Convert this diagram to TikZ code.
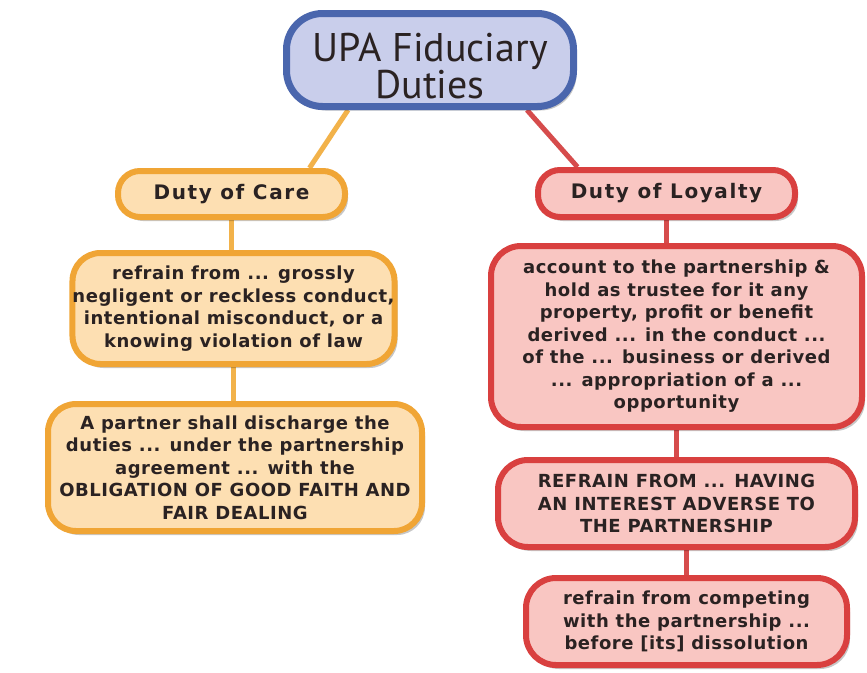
\documentclass[tikz,border=0pt]{standalone}
\usepackage{fontspec}
\setmainfont{PT Sans}
\newfontfamily\boxfont[LetterSpace=3]{DejaVu Sans}
\newfontfamily\headboxfont[LetterSpace=8]{DejaVu Sans}
\usetikzlibrary{shadows,backgrounds}
\definecolor{topline}{HTML}{4A66AD}
\definecolor{topfill}{HTML}{C9CEEB}
\definecolor{careline}{HTML}{F0A535}
\definecolor{carefill}{HTML}{FDDFB2}
\definecolor{careconn}{HTML}{F2B24A}
\definecolor{loyline}{HTML}{D9403F}
\definecolor{loyfill}{HTML}{F9C6C2}
\definecolor{loyconn}{HTML}{D64C4C}
\definecolor{ink}{HTML}{2A2222}
\tikzset{
  box/.style={rectangle, line width=6pt, align=center, inner sep=0pt, text=ink,
    font=\boxfont\bfseries\fontsize{18}{22.5}\selectfont,
    drop shadow={shadow xshift=3pt, shadow yshift=-4pt, opacity=0.22, fill=black}},
  topbox/.style={box, draw=topline, fill=topfill, line width=7pt, rounded corners=36pt,
    font=\fontsize{40}{35}\selectfont},
  carebox/.style={box, draw=careline, fill=carefill},
  loybox/.style={box, draw=loyline, fill=loyfill},
  headfont/.style={font=\headboxfont\bfseries\fontsize{20}{22}\selectfont},
  careconnector/.style={draw=careconn, line width=5pt},
  loyconnector/.style={draw=loyconn, line width=5pt},
}
\begin{document}
\begin{tikzpicture}[x=1pt,y=-1pt]
\useasboundingbox (0,0) rectangle (867,672);
\node[topbox, minimum width=287pt, minimum height=93pt] (top) at (430,60) {\rule{0pt}{40pt}UPA Fiduciary\\Duties};
\node[carebox, headfont, rounded corners=22pt, minimum width=227pt, minimum height=46pt] (care) at (231.5,194) {Duty of Care};
\node[loybox, headfont, rounded corners=22pt, minimum width=257pt, minimum height=47pt] (loyal) at (666.5,193.5) {Duty of Loyalty};
\node[carebox, rounded corners=28pt, minimum width=311pt, minimum height=111pt] (c1) at (233.5,308.5)
  {refrain from ... grossly\\negligent or reckless conduct,\\intentional misconduct, or a\\knowing violation of law};
\node[carebox, rounded corners=28pt, minimum width=374pt, minimum height=127pt] (c2) at (235,467.5)
  {A partner shall discharge the\\duties ... under the partnership\\agreement ... with the\\OBLIGATION OF GOOD FAITH AND\\FAIR DEALING};
\node[loybox, rounded corners=30pt, minimum width=371pt, minimum height=181pt] (l1) at (676.5,336.5)
  {account to the partnership \&\\hold as trustee for it any\\property, profit or benefit\\derived ... in the conduct ...\\of the ... business or derived\\... appropriation of a ...\\opportunity};
\node[loybox, rounded corners=30pt, minimum width=357pt, minimum height=87pt] (l2) at (676.5,503.5)
  {REFRAIN FROM ... HAVING\\AN INTEREST ADVERSE TO\\THE PARTNERSHIP};
\node[loybox, rounded corners=30pt, minimum width=321pt, minimum height=87pt] (l3) at (686.5,621.5)
  {refrain from competing\\with the partnership ...\\before [its] dissolution};
\begin{scope}[on background layer]
\fill[white] (0,0) rectangle (867,672);
\draw[careconnector] ([xshift=-82pt]top.south) -- ([xshift=78pt]care.north);
\draw[loyconnector] ([xshift=97pt]top.south) -- ([xshift=-89pt]loyal.north);
\draw[careconnector] (care.south) -- (care.south |- c1.north);
\draw[careconnector] (c1.south) -- (c1.south |- c2.north);
\draw[loyconnector] (loyal.south) -- (loyal.south |- l1.north);
\draw[loyconnector] (l1.south) -- (l1.south |- l2.north);
\draw[loyconnector] (l3.north |- l2.south) -- (l3.north);
\end{scope}
\end{tikzpicture}
\end{document}
